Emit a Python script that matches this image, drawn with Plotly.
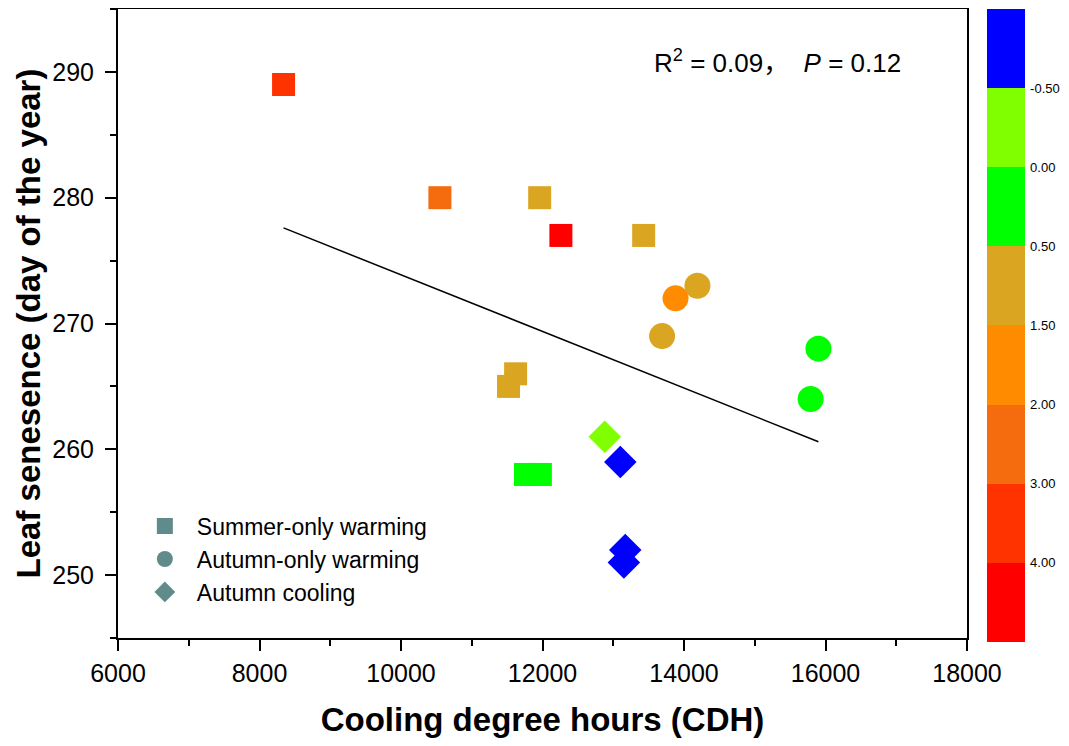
import plotly.graph_objects as go

# ---------------- data ----------------
summer_x = [8340, 10550, 11960, 12260, 13430, 11620, 11520, 11760, 11970]
summer_y = [289, 280, 280, 277, 277, 266, 265, 258, 258]
summer_band = [1, 2, 4, 0, 4, 4, 4, 5, 5]

autumn_x = [14190, 13880, 13690, 15900, 15790]
autumn_y = [273, 272, 269, 268, 264]
autumn_band = [4, 3, 4, 5, 5]

cooling_x = [12880, 13100, 13170, 13150]
cooling_y = [261, 259, 252, 251]
cooling_band = [6, 7, 7, 7]

fit_x = [8340, 15900]
fit_y = [277.6, 260.6]

band_colors = ["#FF0000", "#FF3300", "#F56C0E", "#FF8C00",
               "#DAA520", "#00FF00", "#80FF00", "#0000FF"]
band_labels = ["4.00", "3.00", "2.00", "1.50", "0.50", "0.00", "-0.50"]

legend_names = ["Summer-only warming", "Autumn-only warming", "Autumn cooling"]
legend_color = "#5F8B8B"

# discrete colorscale
n = len(band_colors)
colorscale = []
for i, c in enumerate(band_colors):
    colorscale.append([i / n, c])
    colorscale.append([(i + 1) / n, c])

FONT = "Liberation Sans, Arial, Noto Sans CJK SC, sans-serif"

fig = go.Figure()

fig.add_trace(go.Scatter(x=fit_x, y=fit_y, mode="lines",
                         line=dict(color="black", width=1.5),
                         showlegend=False, hoverinfo="skip"))

groups = [
    (summer_x, summer_y, summer_band, "square", 23),
    (autumn_x, autumn_y, autumn_band, "circle", 26),
    (cooling_x, cooling_y, cooling_band, "diamond", 25),
]
for (gx, gy, gb, sym, sz), name in zip(groups, legend_names):
    fig.add_trace(go.Scatter(
        x=gx, y=gy, mode="markers", showlegend=False, name=name,
        marker=dict(symbol=sym, size=sz, color=[b + 0.5 for b in gb],
                    coloraxis="coloraxis", line=dict(width=0)),
    ))

for (gx, gy, gb, sym, sz), name in zip(groups, legend_names):
    fig.add_trace(go.Scatter(
        x=[None], y=[None], mode="markers", name=name,
        marker=dict(symbol=sym, size=sz, color=legend_color, line=dict(width=0)),
    ))

fig.update_layout(
    width=1069, height=746,
    margin=dict(l=110, r=110, t=1, b=116, autoexpand=False),
    paper_bgcolor="white", plot_bgcolor="white",
    font=dict(family=FONT, color="black"),
    coloraxis=dict(
        cmin=0, cmax=n, colorscale=colorscale,
        colorbar=dict(
            thickness=38, thicknessmode="pixels",
            len=633, lenmode="pixels",
            x=1.024, xanchor="left", xpad=0,
            y=1.0, yanchor="top", ypad=0,
            outlinewidth=0, ticks="outside", ticklen=3,
            tickcolor="rgba(0,0,0,0)",
            tickvals=[i for i in range(1, n)],
            ticktext=band_labels,
            tickfont=dict(size=13, family=FONT, color="black"),
        ),
    ),
    legend=dict(
        x=0.0175, y=0.212, xanchor="left", yanchor="top",
        bgcolor="rgba(0,0,0,0)", font=dict(size=23, family=FONT),
        tracegroupgap=0, itemwidth=54,
    ),
    xaxis=dict(
        range=[6000, 18000], dtick=2000, tick0=6000, tickformat="d",
        showgrid=False, zeroline=False,
        showline=True, linecolor="black", linewidth=2, mirror=True,
        ticks="outside", ticklen=11, tickwidth=2, tickcolor="black",
        minor=dict(dtick=1000, ticks="outside", ticklen=6, tickwidth=2, tickcolor="black"),
        tickfont=dict(size=25, family=FONT),
        ticklabelstandoff=1,
        title=dict(text="<b>Cooling degree hours (CDH)</b>",
                   font=dict(size=33, family=FONT), standoff=22),
    ),
    yaxis=dict(
        range=[245, 295], dtick=10, tick0=250,
        showgrid=False, zeroline=False,
        showline=True, linecolor="black", linewidth=2, mirror=True,
        ticks="outside", ticklen=11, tickwidth=2, tickcolor="black",
        minor=dict(dtick=5, ticks="outside", ticklen=6, tickwidth=2, tickcolor="black"),
        tickfont=dict(size=25, family=FONT),
        ticklabelstandoff=6,
        title=dict(text="<b>Leaf senesence (day of the year)</b>",
                   font=dict(size=33, family=FONT), standoff=2),
    ),
    annotations=[dict(
        x=0.629, y=0.916, xref="paper", yref="paper",
        xanchor="left", yanchor="middle", showarrow=False,
        text="R<sup>2</sup> = 0.09，  <i>P</i> = 0.12",
        font=dict(size=26, family="Liberation Sans, Noto Sans CJK SC", color="black"),
    )],
)

fig.write_html("out.html")
